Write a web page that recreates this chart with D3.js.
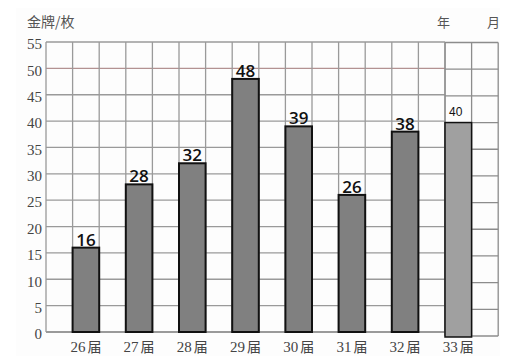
<!DOCTYPE html>
<html>
<head>
<meta charset="utf-8">
<script src="https://cdn.jsdelivr.net/npm/d3@7"></script>
<style>
body { margin: 0; background: #fff; }
.serif { font-family: "Times New Roman", "Liberation Serif", "DejaVu Serif", serif; }
</style>
</head>
<body>
<div id="chart"></div>
<script>
const width = 512;
const height = 363;

// data
const sessions = ["26届", "27届", "28届", "29届", "30届", "31届", "32届", "33届"];
const sessionNums = ["26", "27", "28", "29", "30", "31", "32", "33"];
const medals = [16, 28, 32, 48, 39, 26, 38, 40];
const yTicks = [0, 5, 10, 15, 20, 25, 30, 35, 40, 45, 50, 55];

const svg = d3.select("#chart")
  .append("svg")
  .attr("width", width)
  .attr("height", height);

svg.append("rect")
  .attr("x", 16).attr("y", 8)
  .attr("width", 484).attr("height", 348)
  .attr("fill", "#fdfdfd");

const colW = 26.6;
const left = 46;

const x = d3.scaleBand()
  .domain(sessions)
  .range([left, left + 16 * colW])
  .paddingInner(0)
  .paddingOuter(0);

const y = d3.scaleLinear().domain([0, 55]).range([332, 42]);
// the 33rd column sits on its own little grid, a bit lower
const yRight = d3.scaleLinear().domain([0, 55]).range([336, 42.5]);

const mainRight = left + 15 * colW;
const farRight = left + 17 * colW;

// main grid
const grid = svg.append("g").attr("class", "grid");
grid.selectAll("line.h")
  .data(yTicks)
  .enter()
  .append("line")
  .attr("class", "h")
  .attr("x1", left)
  .attr("x2", mainRight)
  .attr("y1", d => y(d))
  .attr("y2", d => y(d))
  .attr("stroke", d => d === 50 ? "#b39292" : "#9a9a9a")
  .attr("stroke-width", d => d === 0 ? 2 : 1.3);

grid.selectAll("line.v")
  .data(d3.range(0, 16))
  .enter()
  .append("line")
  .attr("class", "v")
  .attr("x1", d => left + d * colW)
  .attr("x2", d => left + d * colW)
  .attr("y1", y(55))
  .attr("y2", y(0))
  .attr("stroke", "#9a9a9a")
  .attr("stroke-width", 1.3);

// right grid
grid.selectAll("line.rh")
  .data(yTicks)
  .enter()
  .append("line")
  .attr("class", "rh")
  .attr("x1", mainRight)
  .attr("x2", farRight)
  .attr("y1", d => yRight(d))
  .attr("y2", d => yRight(d))
  .attr("stroke", "#8c8c8c")
  .attr("stroke-width", 1.3);

grid.selectAll("line.rv")
  .data([15, 16, 17])
  .enter()
  .append("line")
  .attr("class", "rv")
  .attr("x1", d => left + d * colW)
  .attr("x2", d => left + d * colW)
  .attr("y1", yRight(55))
  .attr("y2", yRight(0))
  .attr("stroke", "#8c8c8c")
  .attr("stroke-width", 1.3);

// bars
const bars = svg.append("g");
bars.selectAll("rect")
  .data(sessions)
  .enter()
  .append("rect")
  .attr("x", d => x(d) + x.bandwidth() / 2)
  .attr("width", x.bandwidth() / 2)
  .attr("y", (d, i) => i === 7 ? yRight(medals[i]) : y(medals[i]))
  .attr("height", (d, i) => i === 7 ? yRight(0) + 1 - yRight(medals[i]) : y(0) - y(medals[i]))
  .attr("fill", (d, i) => i === 7 ? "#a0a0a0" : "#808080")
  .attr("stroke", "#111")
  .attr("stroke-width", (d, i) => i === 7 ? 1.5 : 2);

// value labels
bars.selectAll("text")
  .data(sessions)
  .enter()
  .append("text")
  .attr("x", (d, i) => i === 7 ? x(d) + x.bandwidth() / 2 + 4 : x(d) + x.bandwidth() * 0.75)
  .attr("y", (d, i) => i === 7 ? yRight(medals[i]) - 7 : y(medals[i]) - 2)
  .attr("text-anchor", (d, i) => i === 7 ? "start" : "middle")
  .style("font-family", (d, i) => i === 7 ? "'Liberation Sans', Arial, sans-serif" : "'Open Sans', sans-serif")
  .attr("font-size", (d, i) => i === 7 ? 12 : 17)
  .attr("font-weight", (d, i) => i === 7 ? "normal" : 600)
  .attr("fill", "#111")
  .text((d, i) => medals[i]);

// y tick labels
svg.append("g")
  .selectAll("text")
  .data(yTicks)
  .enter()
  .append("text")
  .attr("class", "serif")
  .attr("x", 42)
  .attr("y", d => y(d) + 2)
  .attr("dy", "0.35em")
  .attr("text-anchor", "end")
  .attr("font-size", 15)
  .attr("fill", "#444")
  .text(d => d);

// x labels: number in serif, 届 in CJK font
const xl = svg.append("g")
  .selectAll("text")
  .data(sessions)
  .enter()
  .append("text")
  .attr("class", "serif")
  .attr("x", d => x(d) + x.bandwidth() * 0.75)
  .attr("y", 352)
  .attr("text-anchor", "middle")
  .attr("font-size", 15)
  .attr("fill", "#444");
xl.append("tspan").text((d, i) => sessionNums[i]);
xl.append("tspan")
  .attr("dx", 2)
  .style("font-family", "'Noto Sans CJK SC', sans-serif")
  .attr("font-size", 14)
  .text("届");

// titles
svg.append("text")
  .attr("x", 27).attr("y", 27)
  .style("font-family", "'Noto Sans CJK SC', sans-serif")
  .attr("font-size", 14)
  .attr("fill", "#555")
  .text("金牌/枚");

svg.append("text")
  .attr("x", 437).attr("y", 27)
  .style("font-family", "'Noto Sans CJK SC', sans-serif")
  .attr("font-size", 13)
  .attr("fill", "#555")
  .text("年");

svg.append("text")
  .attr("x", 487).attr("y", 27)
  .style("font-family", "'Noto Sans CJK SC', sans-serif")
  .attr("font-size", 13)
  .attr("fill", "#555")
  .text("月");
</script>
</body>
</html>
